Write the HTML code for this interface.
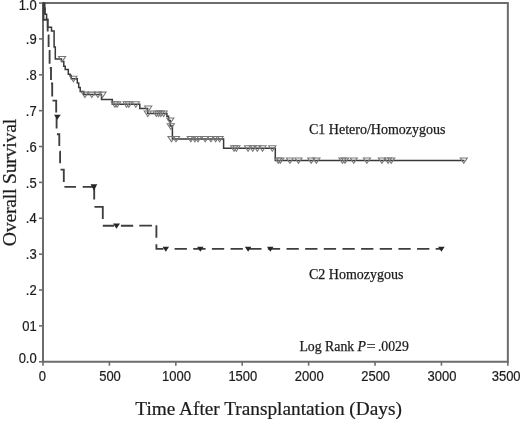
<!DOCTYPE html>
<html><head><meta charset="utf-8"><style>
html,body{margin:0;padding:0;background:#fff;}
body{width:520px;height:421px;overflow:hidden;}
svg{display:block;will-change:transform;}
.tk{font-family:"Liberation Sans",sans-serif;font-size:13px;fill:#1c1c1c;stroke:#1c1c1c;stroke-width:0.2px;}
.lg{font-family:"Liberation Serif",serif;font-size:14px;fill:#1c1c1c;stroke:#1c1c1c;stroke-width:0.25px;}
.lr{font-family:"Liberation Serif",serif;font-size:13.8px;fill:#1c1c1c;stroke:#1c1c1c;stroke-width:0.25px;}
.lr2{font-family:"Liberation Serif",serif;font-size:14.8px;fill:#1c1c1c;stroke:#1c1c1c;stroke-width:0.25px;}
.xl{font-family:"Liberation Serif",serif;font-size:19.3px;fill:#1c1c1c;stroke:#1c1c1c;stroke-width:0.22px;}
.yl{font-family:"Liberation Serif",serif;font-size:19.8px;letter-spacing:-0.25px;fill:#1c1c1c;stroke:#1c1c1c;stroke-width:0.22px;}
</style></head><body>
<svg width="520" height="421" viewBox="0 0 520 421">
<rect width="520" height="421" fill="#fff"/>
<path d="M43.0 3.05 H507.85 V361.75 H43.0 Z" fill="none" stroke="#6c6c6c" stroke-width="2"/>
<line x1="39" y1="361.75" x2="43.0" y2="361.75" stroke="#6c6c6c" stroke-width="1.6"/>
<text transform="translate(36.7 363.20) scale(1 1.08)" text-anchor="end" class="tk">0.0</text>
<line x1="39" y1="325.88" x2="43.0" y2="325.88" stroke="#6c6c6c" stroke-width="1.6"/>
<text transform="translate(36.7 330.88) scale(1 1.08)" text-anchor="end" class="tk">01</text>
<line x1="39" y1="290.01" x2="43.0" y2="290.01" stroke="#6c6c6c" stroke-width="1.6"/>
<text transform="translate(36.7 295.11) scale(1 1.08)" text-anchor="end" class="tk">.2</text>
<line x1="39" y1="254.14" x2="43.0" y2="254.14" stroke="#6c6c6c" stroke-width="1.6"/>
<text transform="translate(36.7 259.24) scale(1 1.08)" text-anchor="end" class="tk">.3</text>
<line x1="39" y1="218.27" x2="43.0" y2="218.27" stroke="#6c6c6c" stroke-width="1.6"/>
<text transform="translate(36.7 223.37) scale(1 1.08)" text-anchor="end" class="tk">.4</text>
<line x1="39" y1="182.40" x2="43.0" y2="182.40" stroke="#6c6c6c" stroke-width="1.6"/>
<text transform="translate(36.7 187.50) scale(1 1.08)" text-anchor="end" class="tk">.5</text>
<line x1="39" y1="146.53" x2="43.0" y2="146.53" stroke="#6c6c6c" stroke-width="1.6"/>
<text transform="translate(36.7 151.63) scale(1 1.08)" text-anchor="end" class="tk">.6</text>
<line x1="39" y1="110.66" x2="43.0" y2="110.66" stroke="#6c6c6c" stroke-width="1.6"/>
<text transform="translate(36.7 115.76) scale(1 1.08)" text-anchor="end" class="tk">.7</text>
<line x1="39" y1="74.79" x2="43.0" y2="74.79" stroke="#6c6c6c" stroke-width="1.6"/>
<text transform="translate(36.7 79.89) scale(1 1.08)" text-anchor="end" class="tk">.8</text>
<line x1="39" y1="38.92" x2="43.0" y2="38.92" stroke="#6c6c6c" stroke-width="1.6"/>
<text transform="translate(36.7 44.02) scale(1 1.08)" text-anchor="end" class="tk">.9</text>
<line x1="39" y1="3.05" x2="43.0" y2="3.05" stroke="#6c6c6c" stroke-width="1.6"/>
<text transform="translate(36.7 9.80) scale(1 1.08)" text-anchor="end" class="tk">1.0</text>
<line x1="43.00" y1="361.75" x2="43.00" y2="365.7" stroke="#6c6c6c" stroke-width="1.6"/>
<text transform="translate(42.35 380.6) scale(1 1.08)" text-anchor="middle" class="tk">0</text>
<line x1="109.41" y1="361.75" x2="109.41" y2="365.7" stroke="#6c6c6c" stroke-width="1.6"/>
<text transform="translate(110.01 380.6) scale(1 1.08)" text-anchor="middle" class="tk">500</text>
<line x1="175.81" y1="361.75" x2="175.81" y2="365.7" stroke="#6c6c6c" stroke-width="1.6"/>
<text transform="translate(176.41 380.6) scale(1 1.08)" text-anchor="middle" class="tk">1000</text>
<line x1="242.22" y1="361.75" x2="242.22" y2="365.7" stroke="#6c6c6c" stroke-width="1.6"/>
<text transform="translate(242.82 380.6) scale(1 1.08)" text-anchor="middle" class="tk">1500</text>
<line x1="308.63" y1="361.75" x2="308.63" y2="365.7" stroke="#6c6c6c" stroke-width="1.6"/>
<text transform="translate(309.23 380.6) scale(1 1.08)" text-anchor="middle" class="tk">2000</text>
<line x1="375.04" y1="361.75" x2="375.04" y2="365.7" stroke="#6c6c6c" stroke-width="1.6"/>
<text transform="translate(375.64 380.6) scale(1 1.08)" text-anchor="middle" class="tk">2500</text>
<line x1="441.44" y1="361.75" x2="441.44" y2="365.7" stroke="#6c6c6c" stroke-width="1.6"/>
<text transform="translate(442.04 380.6) scale(1 1.08)" text-anchor="middle" class="tk">3000</text>
<line x1="507.85" y1="361.75" x2="507.85" y2="365.7" stroke="#6c6c6c" stroke-width="1.6"/>
<text transform="translate(520.6 380.6) scale(1 1.08)" text-anchor="end" class="tk">3500</text>
<path d="M43 3.05 H44.3 V8 H45 V14.3 H46.6 V19.2 H47.6 V27.3 H51.5 V31 H54.1 V47 H55.3 V58.9 H61.5 V61.5 H63.8 V66.3 H65.2 V69.5 H68.3 V74.3 H70.2 V75.5 H71.3 V78.8 H77.3 V83 H78.7 V87.6 H80.2 V91.4 H83.8 V94.6 H101.5 V99.4 H112.3 V104.3 H139.8 V108.5 H147.6 V113.5 H166.9 V116.2 H168.6 V120.4 H170.2 V126 H172.4 V138.9 H223.6 V148.3 H275.3 V160.4 H464.5" fill="none" stroke="#383838" stroke-width="1.5" stroke-linejoin="miter"/>
<rect x="43" y="3" width="2.5" height="10.8" fill="#3a3a3a"/>
<g fill="none" stroke="#787878" stroke-width="1.05"><path d="M58.50 56.40 H65.70 L62.10 61.90 Z"/><path d="M69.80 76.30 H77.00 L73.40 81.80 Z"/><path d="M81.30 92.10 H88.50 L84.90 97.60 Z"/><path d="M88.20 92.10 H95.40 L91.80 97.60 Z"/><path d="M94.30 92.10 H101.50 L97.90 97.60 Z"/><path d="M98.90 92.10 H106.10 L102.50 97.60 Z"/><path d="M111.30 101.80 H118.50 L114.90 107.30 Z"/><path d="M113.50 101.80 H120.70 L117.10 107.30 Z"/><path d="M123.00 101.80 H130.20 L126.60 107.30 Z"/><path d="M125.20 101.80 H132.40 L128.80 107.30 Z"/><path d="M132.20 101.80 H139.40 L135.80 107.30 Z"/><path d="M144.60 106.00 H151.80 L148.20 111.50 Z"/><path d="M144.20 111.00 H151.40 L147.80 116.50 Z"/><path d="M152.80 111.00 H160.00 L156.40 116.50 Z"/><path d="M155.00 111.00 H162.20 L158.60 116.50 Z"/><path d="M157.20 111.00 H164.40 L160.80 116.50 Z"/><path d="M160.00 111.00 H167.20 L163.60 116.50 Z"/><path d="M166.70 117.90 H173.90 L170.30 123.40 Z"/><path d="M167.20 123.70 H174.40 L170.80 129.20 Z"/><path d="M167.90 136.40 H175.10 L171.50 141.90 Z"/><path d="M172.40 136.40 H179.60 L176.00 141.90 Z"/><path d="M187.20 136.40 H194.40 L190.80 141.90 Z"/><path d="M191.30 136.40 H198.50 L194.90 141.90 Z"/><path d="M194.40 136.40 H201.60 L198.00 141.90 Z"/><path d="M201.60 136.40 H208.80 L205.20 141.90 Z"/><path d="M207.30 136.40 H214.50 L210.90 141.90 Z"/><path d="M212.00 136.40 H219.20 L215.60 141.90 Z"/><path d="M216.00 136.40 H223.20 L219.60 141.90 Z"/><path d="M230.50 145.80 H237.70 L234.10 151.30 Z"/><path d="M232.80 145.80 H240.00 L236.40 151.30 Z"/><path d="M244.50 145.80 H251.70 L248.10 151.30 Z"/><path d="M249.10 145.80 H256.30 L252.70 151.30 Z"/><path d="M253.70 145.80 H260.90 L257.30 151.30 Z"/><path d="M258.90 145.80 H266.10 L262.50 151.30 Z"/><path d="M268.70 145.80 H275.90 L272.30 151.30 Z"/><path d="M274.70 157.90 H281.90 L278.30 163.40 Z"/><path d="M276.70 157.90 H283.90 L280.30 163.40 Z"/><path d="M286.30 157.90 H293.50 L289.90 163.40 Z"/><path d="M294.90 157.90 H302.10 L298.50 163.40 Z"/><path d="M307.60 157.90 H314.80 L311.20 163.40 Z"/><path d="M312.80 157.90 H320.00 L316.40 163.40 Z"/><path d="M338.90 157.90 H346.10 L342.50 163.40 Z"/><path d="M341.40 157.90 H348.60 L345.00 163.40 Z"/><path d="M350.15 157.90 H357.35 L353.75 163.40 Z"/><path d="M363.30 157.90 H370.50 L366.90 163.40 Z"/><path d="M378.30 157.90 H385.50 L381.90 163.40 Z"/><path d="M384.50 157.90 H391.70 L388.10 163.40 Z"/><path d="M387.65 157.90 H394.85 L391.25 163.40 Z"/><path d="M460.20 157.90 H467.40 L463.80 163.40 Z"/></g>
<path d="M43 3.05 H43.5 V19.7 H47.7 V31.5 M47.9 35.3 H48.6 V47 M48.8 51 H49.6 V63.7 M49.8 68 H51 V80 M51 83.5 H52.2 V96.5 M52.5 100.6 H56.2 V112.5 M56.6 115 V128.6 M56.9 134.2 H59.3 V146 M59.6 151.6 H60.1 V163.3 M60.5 169.6 H63.8 V181.9 M64.4 186.8 H76 M82.7 186.8 H94.2 V199.6 M94.5 206.9 H102.8 V219 M102.8 225.7 H114 M120.9 225.7 H133.2 M139.3 225.6 H151.9 M156.4 225.3 V237.8 M156.4 244.3 V248.9 H163.5" fill="none" stroke="#3e3e3e" stroke-width="1.85"/>
<line x1="174.6" y1="248.9" x2="442" y2="248.9" stroke="#3e3e3e" stroke-width="1.85" stroke-dasharray="12.3 6.35"/>
<g fill="#262626"><path d="M54.00 114.80 H60.80 L57.40 119.60 Z"/><path d="M90.50 184.30 H97.30 L93.90 190.60 Z"/><path d="M113.00 223.40 H120.00 L116.50 228.80 Z"/><path d="M162.55 246.80 H169.05 L165.80 251.70 Z"/><path d="M197.05 246.70 H203.55 L200.30 251.70 Z"/><path d="M244.85 246.70 H251.35 L248.10 251.70 Z"/><path d="M267.05 246.70 H273.55 L270.30 251.70 Z"/><path d="M438.15 246.70 H444.65 L441.40 251.70 Z"/></g>
<text x="309" y="134.3" class="lg">C1 Hetero/Homozygous</text>
<text x="309" y="278.9" class="lg">C2 Homozygous</text>
<text x="299.4" y="350.8" class="lr">Log Rank</text>
<text x="357.6" y="350.8" class="lr" font-style="italic">P</text>
<text x="366.6" y="350.8" class="lr" transform="translate(366.6 0) scale(1.18 1) translate(-366.6 0)">=</text>
<text x="377.9" y="351.1" class="lr2" transform="translate(377.9 0) scale(0.93 1) translate(-377.9 0)">.0029</text>
<text x="135.3" y="415.3" class="xl">Time After Transplantation (Days)</text>
<text transform="translate(15.5 246.3) rotate(-90)" class="yl">Overall Survival</text>
</svg>
</body></html>
